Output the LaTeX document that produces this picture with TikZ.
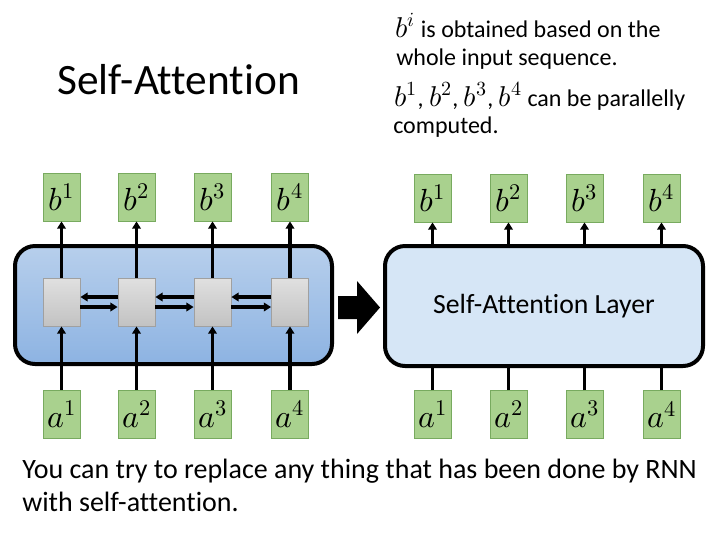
\documentclass[tikz,border=0pt]{standalone}
\usepackage{fontspec}
\usepackage{unicode-math}
\setmainfont{Carlito}[Ligatures=NoCommon]
\setmathfont{Latin Modern Math}
\usetikzlibrary{arrows.meta,calc}
\newcommand\bigmath[1]{{\fontsize{21.5}{22}\selectfont$#1$}}
\definecolor{gfill}{RGB}{169,209,142}
\definecolor{gedge}{RGB}{120,170,95}
\definecolor{rnntop}{RGB}{183,207,236}
\definecolor{rnnbot}{RGB}{141,179,226}
\definecolor{safill}{RGB}{214,230,246}
\definecolor{celltop}{RGB}{224,224,224}
\definecolor{cellbot}{RGB}{194,194,194}
\definecolor{celledge}{RGB}{160,160,160}
\tikzset{
  vecbox/.style={draw=gedge, line width=0.6pt, fill=gfill, minimum width=27.75pt, minimum height=36pt, inner sep=0pt, font=\fontsize{24}{26}\selectfont},
  cellbox/.style={draw=celledge, line width=0.6pt, top color=celltop, bottom color=cellbot, minimum width=27.75pt, minimum height=36pt, inner sep=0pt},
  arr/.style={line width=2.3pt, -{Triangle[length=5.5pt,width=6.5pt]}},
  harr/.style={arr, line width=2.7pt},
  plain/.style={line width=2.3pt},
  bigbox/.style={draw=black, line width=3pt, rounded corners=15pt, inner sep=0pt},
  txt/.style={font=\fontsize{18}{21}\selectfont, anchor=base west, inner sep=0pt}
}
\begin{document}
\begin{tikzpicture}[x=0.75pt,y=-0.75pt]
\useasboundingbox[fill=white] (0,0) rectangle (720,540);

% title and notes
\node[font=\fontsize{32.5}{38}\selectfont, anchor=base west, inner sep=0pt] (title) at (57,94) {Self-Attention};
\node[txt] (t1) at (395,37) {\bigmath{b^i} is obtained based on the};
\node[txt] (t2) at (396,65) {whole input sequence.};
\node[txt] (t3) at (394,106) {\bigmath{b^1}, \bigmath{b^2}, \bigmath{b^3}, \bigmath{b^4} can be parallelly};
\node[txt] (t4) at (393,133) {computed.};

% left: RNN-like block
\node[bigbox, top color=rnntop, bottom color=rnnbot, minimum width=237.75pt, minimum height=88.5pt] (rnn) at (173.5,305) {};
\foreach \i/\x in {1/61.5, 2/136.5, 3/212.5, 4/290} {
  \node[vecbox] (lb\i) at (\x,197) {$b^{\i}$};
  \node[vecbox] (la\i) at (\x,414) {$a^{\i}$};
  \node[cellbox] (c\i) at (\x,302) {};
  \draw[arr] (la\i) -- (c\i);
  \draw[arr] (c\i) -- (lb\i);
}
\foreach \i/\j in {1/2, 2/3, 3/4} {
  \draw[harr] ([yshift=3.75pt]c\j.west) -- ([yshift=3.75pt]c\i.east);
  \draw[harr] ([yshift=-3.75pt]c\i.east) -- ([yshift=-3.75pt]c\j.west);
}

% big arrow
\fill[black] (338,296) -- (357,296) -- (357,281) -- (380,307.5) -- (357,334) -- (357,319) -- (338,319) -- cycle;

% right: self-attention layer
\node[bigbox, fill=safill, minimum width=238.5pt, minimum height=90pt, font=\fontsize{20.8}{24}\selectfont] (sa) at (544,306) {Self-Attention Layer};
\foreach \i/\x in {1/432.5, 2/508.5, 3/584.5, 4/661.5} {
  \node[vecbox] (rb\i) at (\x,198) {$b^{\i}$};
  \node[vecbox] (ra\i) at (\x,414.5) {$a^{\i}$};
  \draw[plain] (ra\i) -- (ra\i |- sa.south);
  \draw[arr] (rb\i |- sa.north) -- (rb\i);
}

% bottom text
\node[font=\fontsize{21}{25}\selectfont, anchor=base west, inner sep=0pt] (n1) at (22,478) {You can try to replace any thing that has been done by RNN};
\node[font=\fontsize{21}{25}\selectfont, anchor=base west, inner sep=0pt] (n2) at (22,511) {with self-attention.};
\end{tikzpicture}
\end{document}
